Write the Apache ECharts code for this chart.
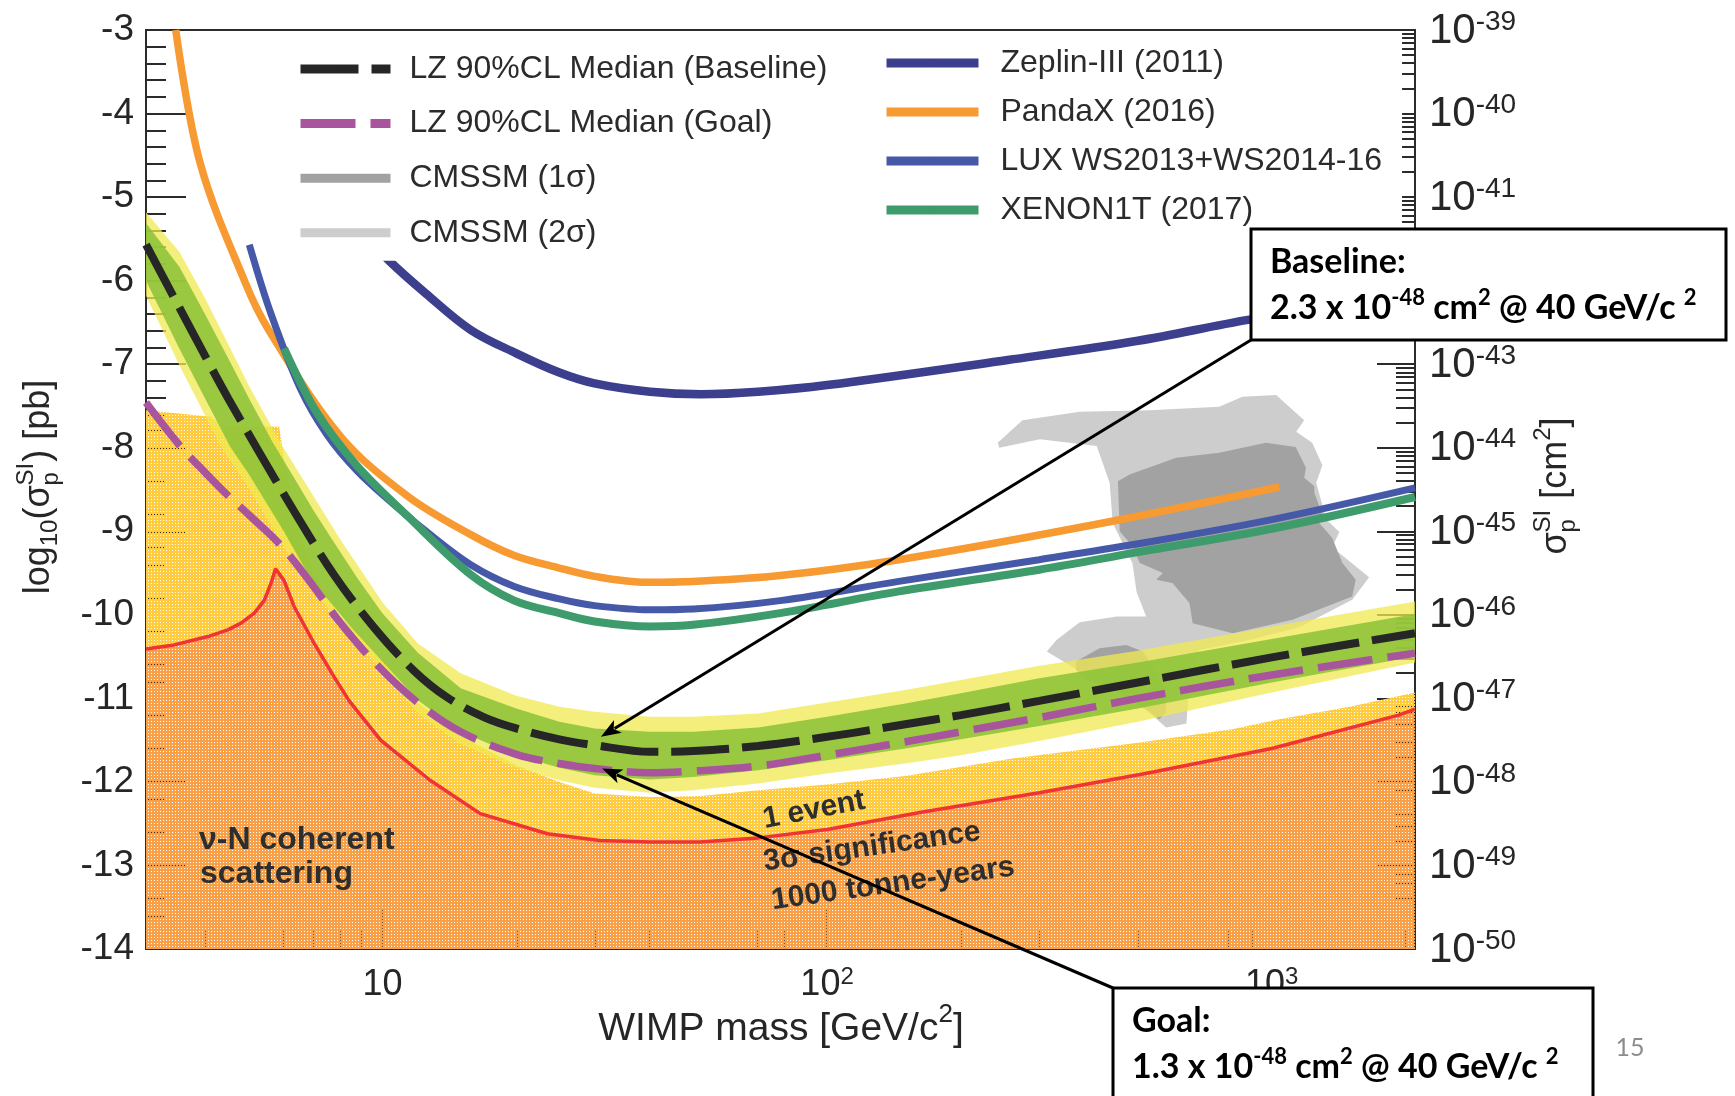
<!DOCTYPE html>
<html>
<head>
<meta charset="utf-8">
<script src="https://cdn.jsdelivr.net/npm/echarts@6/dist/echarts.min.js"></script>
<style>
  html, body { margin: 0; padding: 0; background: #fff; }
  #chart { width: 1735px; height: 1096px; }
</style>
</head>
<body>
<div id="chart"></div>
<script>
// WIMP mass in GeV/c^2, cross-sections as log10(sigma_p^SI / pb)

// Existing experimental limits
const zeplinMass  = [7, 8.5, 10.35, 12.5, 15.8, 20, 25, 30, 40, 52, 70, 100, 255, 500, 884, 2100];
const zeplinSigma = [-4.85, -5.28, -5.76, -6.15, -6.59, -6.87, -7.10, -7.23, -7.33, -7.36, -7.33, -7.25, -6.95, -6.72, -6.47, -6.15];

const pandaxMass  = [3.43, 3.89, 4.92, 5.55, 8.04, 11.4, 15.8, 19.8, 25, 30, 39.3, 50, 78.4, 145, 409, 1040];
const pandaxSigma = [-3.0, -4.59, -6.03, -6.59, -7.86, -8.58, -9.04, -9.29, -9.44, -9.54, -9.61, -9.60, -9.53, -9.34, -8.91, -8.47];

const luxMass  = [5.02, 5.61, 6.55, 7.52, 8.78, 10.4, 12.4, 15.8, 19.8, 25, 30, 40, 50, 78.4, 145, 300, 500, 1000, 2100];
const luxSigma = [-5.57, -6.39, -7.30, -7.85, -8.28, -8.64, -8.98, -9.40, -9.66, -9.81, -9.89, -9.94, -9.93, -9.83, -9.60, -9.34, -9.15, -8.86, -8.48];

const xenonMass  = [6.01, 7.14, 8.78, 11.4, 15.8, 19.8, 25, 30, 40, 50, 78.4, 145, 300, 500, 1000, 2100];
const xenonSigma = [-6.81, -7.59, -8.22, -8.82, -9.52, -9.83, -9.98, -10.08, -10.14, -10.12, -9.98, -9.72, -9.46, -9.25, -8.97, -8.59];

// LZ projected 90% CL median sensitivity
const lzBaseMass  = [2.94, 3.5, 4, 4.5, 5.24, 6.33, 7.78, 9.57, 11.78, 14, 17, 20, 25, 30, 40, 50, 70, 100, 150, 200, 300, 500, 1000, 2100];
const lzBaseSigma = [-5.57, -6.33, -6.91, -7.41, -8.02, -8.76, -9.52, -10.15, -10.67, -10.99, -11.23, -11.36, -11.49, -11.56, -11.64, -11.63, -11.57, -11.46, -11.31, -11.20, -11.03, -10.81, -10.51, -10.22];

const lzGoalMass  = [2.94, 3.52, 4, 4.49, 5, 5.91, 7, 8, 9.57, 12, 15, 20, 25, 30, 40, 50, 70, 100, 150, 200, 300, 500, 1000, 2100];
const lzGoalSigma = [-7.46, -7.99, -8.30, -8.57, -8.80, -9.17, -9.66, -10.08, -10.56, -11.05, -11.40, -11.67, -11.78, -11.84, -11.89, -11.87, -11.81, -11.68, -11.52, -11.40, -11.23, -11.00, -10.72, -10.46];

// Sensitivity bands around the baseline median
const band1UpMass  = [2.94, 3.5, 4, 4.5, 5, 5.66, 6.33, 7, 7.78, 8.78, 10, 12, 15, 20, 25, 30, 40, 50, 70, 100, 150, 200, 300, 500, 1000, 2100];
const band1UpSigma = [-5.31, -5.84, -6.41, -6.93, -7.40, -7.93, -8.36, -8.75, -9.13, -9.56, -9.98, -10.45, -10.88, -11.12, -11.28, -11.36, -11.40, -11.40, -11.35, -11.22, -11.06, -10.94, -10.76, -10.57, -10.29, -9.99];
const band1LoMass  = [2.94, 3.5, 4, 4.55, 5, 6, 6.78, 7.5, 8.5, 10, 12, 15, 20, 25, 30, 40, 50, 70, 100, 150, 200, 300, 500, 1000, 2100];
const band1LoSigma = [-6.00, -6.82, -7.42, -7.99, -8.31, -9.00, -9.50, -9.80, -10.15, -10.56, -11.02, -11.40, -11.68, -11.83, -11.92, -11.97, -11.94, -11.86, -11.74, -11.60, -11.49, -11.33, -11.12, -10.81, -10.50];
const band2UpMass  = [2.94, 3.5, 4, 4.5, 5, 5.91, 7, 8, 9.25, 10, 12, 15, 20, 25, 30, 40, 50, 70, 100, 150, 200, 300, 500, 1000, 2100];
const band2UpSigma = [-5.18, -5.66, -6.22, -6.76, -7.25, -7.95, -8.58, -9.08, -9.58, -9.85, -10.34, -10.70, -10.97, -11.10, -11.16, -11.22, -11.22, -11.18, -11.05, -10.90, -10.78, -10.61, -10.43, -10.14, -9.84];
const band2LoMass  = [2.94, 3.5, 4.34, 5, 6.43, 7, 8, 10, 12, 15, 20, 25, 30, 40, 50, 70, 100, 150, 200, 300, 500, 1000, 2100];
const band2LoSigma = [-6.18, -7.02, -7.99, -8.48, -9.45, -9.70, -10.10, -10.67, -11.18, -11.55, -11.83, -11.98, -12.07, -12.13, -12.10, -12.02, -11.90, -11.78, -11.68, -11.51, -11.28, -10.93, -10.57];

// Neutrino backgrounds: 1 event / 3 sigma discovery in 1000 tonne-years, and coherent scattering floor
const discoveryMass  = [2.94, 4.12, 4.33, 5.86, 6.01, 6.5, 7, 8, 10, 12, 15, 20, 25, 30, 40, 52, 70, 100, 150, 261, 500, 815, 1040, 1500, 2100];
const discoverySigma = [-7.55, -7.63, -7.73, -7.75, -8.15, -9.00, -9.50, -10.00, -10.55, -11.05, -11.45, -11.80, -12.00, -12.14, -12.18, -12.17, -12.10, -12.03, -11.93, -11.72, -11.53, -11.37, -11.25, -11.10, -10.93];
const floorMass  = [2.94, 3.4, 4.05, 4.49, 4.81, 5.15, 5.42, 5.61, 5.75, 6.01, 6.33, 7.02, 7.78, 8.42, 9.91, 12.8, 16.6, 23.5, 30.8, 40, 51.8, 70, 100, 164, 300, 520, 1000, 1930, 2100];
const floorSigma = [-10.41, -10.36, -10.26, -10.18, -10.10, -9.98, -9.83, -9.63, -9.45, -9.59, -9.90, -10.34, -10.74, -11.03, -11.50, -11.98, -12.38, -12.62, -12.70, -12.72, -12.72, -12.67, -12.57, -12.36, -12.13, -11.90, -11.60, -11.20, -11.13];

// CMSSM preferred regions
const cmssm2Mass  = [242, 275, 370, 531, 762, 859, 1023, 1183, 1135, 1233, 1300, 1259, 1327, 1419, 1368, 1656, 1517, 1153, 891, 687, 653, 643, 579, 522, 410, 312, 328, 370, 448, 522, 497, 486, 439, 432, 404, 301, 244];
const cmssm2Sigma = [-7.94, -7.67, -7.57, -7.55, -7.51, -7.39, -7.37, -7.67, -7.81, -7.94, -8.21, -8.42, -8.86, -9.01, -9.19, -9.55, -9.82, -10.15, -10.30, -10.42, -10.82, -11.30, -11.35, -11.14, -10.82, -10.44, -10.30, -10.09, -10.02, -10.02, -9.73, -9.38, -8.90, -8.42, -7.98, -7.90, -8.00];
const cmssm1Mass  = [451, 479, 610, 762, 971, 1132, 1194, 1183, 1247, 1247, 1300, 1279, 1368, 1442, 1545, 1517, 1114, 817, 664, 653, 598, 550, 569, 505, 486, 455];
const cmssm1Sigma = [-8.40, -8.32, -8.12, -8.06, -7.94, -7.99, -8.24, -8.36, -8.46, -8.54, -8.80, -8.90, -9.08, -9.38, -9.58, -9.78, -10.06, -10.22, -10.10, -9.86, -9.62, -9.58, -9.50, -9.38, -9.18, -9.00];
const cmssm1LobeMass  = [363, 410, 471, 513, 540, 578, 578, 558, 522, 447, 383, 363];
const cmssm1LobeSigma = [-10.56, -10.40, -10.36, -10.44, -10.62, -10.90, -11.17, -11.25, -11.13, -10.90, -10.78, -10.66];

// Axis ticks and labels
const xLabelDecades = [1, 2, 3];             // 10, 10^2, 10^3 GeV
const yLeftTicks = [-14, -3];                // range in log10(pb)
const pbToCm2Exponent = -36;                 // 1 pb = 1e-36 cm^2

// Quoted sensitivities at 40 GeV/c^2
const baselineNote = { coef: '2.3', exp: -48, mass: 40 };
const goalNote     = { coef: '1.3', exp: -48, mass: 40 };
const baselineArrowTip = [31, -11.46];
const goalArrowTip     = [31.2, -11.84];

// ---------------------------------------------------------------
const L = Math.log10;
const pts = (ms, ss) => ms.map((m, i) => [L(m), ss[i]]);
const closedBand = (um, us, lm, ls) => pts(um, us).concat(pts(lm, ls).reverse());

const xMin = L(2.94), xMax = L(2100);
const minorX = [];
for (let n = 0; n <= 3; n++) for (let k = 2; k <= 9; k++) {
  const v = n + L(k);
  if (v >= xMin && v <= xMax) minorX.push(v);
}
const minorYRight = [];
for (let n = yLeftTicks[0]; n < yLeftTicks[1]; n++) for (let k = 2; k <= 9; k++) minorYRight.push(n + L(k));

// fine halftone: solid colour with a transparent pixel every 3x3 cell
function dotFill(base) {
  const c = document.createElement('canvas');
  c.width = 3; c.height = 3;
  const g = c.getContext('2d');
  g.fillStyle = base; g.fillRect(0, 0, 3, 3);
  g.clearRect(1, 1, 1, 1);
  return { image: c, repeat: 'repeat' };
}
const orangeFill = dotFill('#F8A048');
const goldFill = dotFill('#FECC3E');

const FONT = '"Liberation Sans", Arial, sans-serif';
const INK = '#262626';

function polySeries(name, polys, fill, z, legendColor) {
  return {
    name: name, type: 'custom', coordinateSystem: 'cartesian2d', z: z, silent: true,
    itemStyle: { color: legendColor || '#000' },
    data: polys.map(p => p[0]),
    renderItem: function (params, api) {
      return {
        type: 'polygon',
        shape: { points: polys[params.dataIndex].map(p => api.coord(p)) },
        style: { fill: fill }
      };
    }
  };
}

function limitLine(name, ms, ss, color, width, dash, z) {
  return {
    name: name, type: 'line', data: pts(ms, ss), symbol: 'none', z: z,
    smooth: 0.35, silent: true,
    itemStyle: { color: color },
    lineStyle: { color: color, width: width, type: dash || 'solid', cap: 'butt' }
  };
}

const chart = echarts.init(document.getElementById('chart'), null, { renderer: 'canvas', width: 1735, height: 1096 });

const legendText = { fontSize: 32, color: '#2b2b2b', fontFamily: FONT, lineHeight: 40, padding: [0, 0, 0, 14] };

const option = {
  animation: false,
  backgroundColor: '#ffffff',
  grid: { left: 146, top: 30, width: 1269, height: 919, show: true, backgroundColor: '#ffffff', borderColor: '#2b2b2b', borderWidth: 2 },
  xAxis: [
    {
      type: 'value', min: xMin, max: xMax, position: 'bottom',
      axisLine: { show: false }, splitLine: { show: false },
      axisTick: { show: true, inside: true, length: 40, customValues: xLabelDecades, lineStyle: { color: '#2b2b2b', width: 1.5 } },
      axisLabel: {
        show: true, customValues: xLabelDecades, margin: 16, color: INK,
        formatter: v => Math.round(v) === 1 ? '{b|10}' : '{b|10}{s|' + Math.round(v) + '}',
        rich: {
          b: { fontSize: 36, fontFamily: FONT, color: INK, verticalAlign: 'bottom', lineHeight: 38, padding: [8, 0, 0, 0] },
          s: { fontSize: 24, fontFamily: FONT, color: INK, verticalAlign: 'top', lineHeight: 24 }
        }
      }
    },
    {
      type: 'value', min: xMin, max: xMax, position: 'bottom',
      axisLine: { show: false }, splitLine: { show: false }, axisLabel: { show: false },
      axisTick: { show: true, inside: true, length: 20, customValues: minorX, lineStyle: { color: '#2b2b2b', width: 1.5 } }
    }
  ],
  yAxis: [
    {
      type: 'value', min: yLeftTicks[0], max: yLeftTicks[1], interval: 1, position: 'left',
      axisLine: { show: false }, splitLine: { show: false },
      axisTick: { show: true, inside: true, length: 40, lineStyle: { color: '#2b2b2b', width: 2 } },
      minorTick: { show: true, splitNumber: 5, length: 20, lineStyle: { color: '#2b2b2b', width: 2 } },
      axisLabel: { fontSize: 37, fontFamily: FONT, color: INK, margin: 12 }
    },
    {
      type: 'value', min: yLeftTicks[0], max: yLeftTicks[1], interval: 1, position: 'right',
      axisLine: { show: false }, splitLine: { show: false },
      axisTick: { show: true, inside: true, length: 38, lineStyle: { color: '#2b2b2b', width: 2 } },
      axisLabel: {
        margin: 14, color: INK,
        formatter: v => '{b|10}{s|' + (Math.round(v) + pbToCm2Exponent) + '}',
        rich: {
          b: { fontSize: 42, fontFamily: FONT, color: INK, verticalAlign: 'bottom', lineHeight: 44, padding: [9, 0, 0, 0] },
          s: { fontSize: 28, fontFamily: FONT, color: INK, verticalAlign: 'top', lineHeight: 28 }
        }
      }
    },
    {
      type: 'value', min: yLeftTicks[0], max: yLeftTicks[1], position: 'right',
      axisLine: { show: false }, splitLine: { show: false }, axisLabel: { show: false },
      axisTick: { show: true, inside: true, length: 19, customValues: minorYRight, lineStyle: { color: '#2b2b2b', width: 2 } }
    }
  ],
  legend: [
    {
      orient: 'vertical', left: 282, top: 39, itemWidth: 90, itemHeight: 9, itemGap: 14.6, z: 20,
      padding: [10, 20, 8, 14], backgroundColor: '#ffffff', selectedMode: false,
      lineStyle: { width: 9 }, textStyle: legendText,
      data: [
        { name: 'LZ 90%CL Median (Baseline)' },
        { name: 'LZ 90%CL Median (Goal)' },
        { name: 'CMSSM (1σ)', icon: 'rect' },
        { name: 'CMSSM (2σ)', icon: 'rect' }
      ]
    },
    {
      orient: 'vertical', left: 868, top: 33, itemWidth: 92, itemHeight: 9, itemGap: 9, z: 20,
      padding: [10, 20, 8, 14], backgroundColor: '#ffffff', selectedMode: false,
      lineStyle: { width: 9 }, textStyle: Object.assign({}, legendText, { padding: [0, 0, 0, 17] }),
      data: ['Zeplin-III (2011)', 'PandaX (2016)', 'LUX WS2013+WS2014-16', 'XENON1T (2017)']
    }
  ],
  series: [
    // coherent neutrino scattering floor (orange) with its red boundary
    {
      name: 'ν-N floor', type: 'line', data: pts(floorMass, floorSigma), symbol: 'none', z: 1, silent: true,
      itemStyle: { color: '#EE3434' },
      lineStyle: { color: '#EE3434', width: 3.5 },
      areaStyle: { color: orangeFill, origin: 'start', opacity: 1 }
    },
    // 1 event, 3 sigma, 1000 tonne-years region (gold) between its edge and the floor
    polySeries('discovery region', [closedBand(discoveryMass, discoverySigma, floorMass, floorSigma)], goldFill, 1),
    polySeries('CMSSM (2σ)', [pts(cmssm2Mass, cmssm2Sigma)], '#CDCDCD', 2, '#CDCDCD'),
    polySeries('CMSSM (1σ)', [pts(cmssm1Mass, cmssm1Sigma), pts(cmssm1LobeMass, cmssm1LobeSigma)], '#A2A2A2', 2, '#A2A2A2'),
    polySeries('LZ 2σ band', [closedBand(band2UpMass, band2UpSigma, band2LoMass, band2LoSigma)], 'rgba(240,233,80,0.75)', 3),
    polySeries('LZ 1σ band', [closedBand(band1UpMass, band1UpSigma, band1LoMass, band1LoSigma)], 'rgba(139,194,56,0.86)', 3),
    limitLine('Zeplin-III (2011)', zeplinMass, zeplinSigma, '#3C3E8E', 8.5, 'solid', 4),
    limitLine('PandaX (2016)', pandaxMass, pandaxSigma, '#F79A32', 7.5, 'solid', 4),
    limitLine('LUX WS2013+WS2014-16', luxMass, luxSigma, '#4559A8', 7, 'solid', 4),
    limitLine('XENON1T (2017)', xenonMass, xenonSigma, '#3E9B6B', 8, 'solid', 4),
    limitLine('LZ 90%CL Median (Goal)', lzGoalMass, lzGoalSigma, '#A8559E', 7.5, [55, 15], 5),
    limitLine('LZ 90%CL Median (Baseline)', lzBaseMass, lzBaseSigma, '#262626', 8, [58, 13], 6)
  ]
};

chart.setOption(option);

// ---------------------------------------------------------------
// Annotations: axis titles, region labels, note boxes and arrows
const measure = document.createElement('canvas').getContext('2d');
function tw(text, size) {
  measure.font = size + 'px ' + FONT;
  return measure.measureText(text).width;
}

// a run of text pieces; a piece flagged 'stack' shares its x with the following piece
function runText(pieces, cx, cy, rotation) {
  let total = 0;
  pieces.forEach(p => { if (!p.stack) total += p.w !== undefined ? p.w : tw(p.t, p.s); });
  let x = -total / 2;
  const children = [];
  pieces.forEach(p => {
    children.push({ type: 'text', x: x, y: p.dy || 0, style: { text: p.t, fontSize: p.s, fontFamily: FONT, fill: INK, align: 'left', verticalAlign: 'middle' } });
    if (!p.stack) x += p.w !== undefined ? p.w : tw(p.t, p.s);
  });
  return { type: 'group', x: cx, y: cy, rotation: rotation || 0, children: children, z: 50 };
}

const supW = t => tw(t, 24);
const leftTitle = runText([
  { t: 'log', s: 36 },
  { t: '10', s: 24, dy: 11 },
  { t: '(σ', s: 36 },
  { t: 'SI', s: 24, dy: -13, stack: true },
  { t: 'p', s: 24, dy: 12, w: Math.max(supW('SI'), supW('p')) + 1 },
  { t: ') [pb]', s: 36 }
], 39, 487, Math.PI / 2);

const rightTitle = runText([
  { t: 'σ', s: 36 },
  { t: 'SI', s: 24, dy: -13, stack: true },
  { t: 'p', s: 24, dy: 12, w: Math.max(supW('SI'), supW('p')) + 1 },
  { t: ' [cm', s: 36 },
  { t: '2', s: 24, dy: -13 },
  { t: ']', s: 36 }
], 1556, 486, Math.PI / 2);

const bottomTitle = runText([
  { t: 'WIMP mass [GeV/c', s: 39 },
  { t: '2', s: 26, dy: -14 },
  { t: ']', s: 39 }
], 781, 1029, 0);

function boldText(text, x, y, rot, size) {
  return {
    type: 'text', x: x, y: y, rotation: rot || 0, z: 40,
    style: { text: text, fontSize: size || 30, fontWeight: 'bold', fontFamily: FONT, fill: '#2e2e2e', align: rot === undefined ? 'left' : 'center', verticalAlign: 'middle' }
  };
}

const NOTE_FONT = 'Lato, "Open Sans", sans-serif';
function noteBox(x, y, w, h, title, note) {
  const rich = {
    t: { fontSize: 34, fontWeight: 'bold', fontFamily: NOTE_FONT, fill: '#000', verticalAlign: 'bottom', lineHeight: 38, padding: [7, 0, 0, 0] },
    s: { fontSize: 22, fontWeight: 'bold', fontFamily: NOTE_FONT, fill: '#000', verticalAlign: 'top', lineHeight: 22 }
  };
  const line2 = '{t|' + note.coef + ' x 10}{s|' + note.exp + '}{t| cm}{s|2}{t| @ ' + note.mass + ' GeV/c }{s|2}';
  return [
    { type: 'rect', z: 60, shape: { x: x, y: y, width: w, height: h }, style: { fill: '#fff', stroke: '#000', lineWidth: 3 } },
    { type: 'text', z: 61, x: x + 19, y: y + 33, style: { text: title, fontSize: 34, fontWeight: 'bold', fontFamily: NOTE_FONT, fill: '#000', align: 'left', verticalAlign: 'middle' } },
    { type: 'text', z: 61, x: x + 19, y: y + 77, style: { text: line2, rich: rich, align: 'left', verticalAlign: 'middle' } }
  ];
}

function arrow(from, to) {
  const dx = to[0] - from[0], dy = to[1] - from[1];
  const len = Math.sqrt(dx * dx + dy * dy);
  const ux = dx / len, uy = dy / len, nx = -uy, ny = ux;
  const hl = 20, hw = 7.5;
  const bx = to[0] - ux * hl, by = to[1] - uy * hl;
  return [
    { type: 'line', z: 58, shape: { x1: from[0], y1: from[1], x2: bx + ux * 4, y2: by + uy * 4 }, style: { stroke: '#000', lineWidth: 3 } },
    { type: 'polygon', z: 58, shape: { points: [[to[0], to[1]], [bx + nx * hw, by + ny * hw], [bx + ux * 5, by + uy * 5], [bx - nx * hw, by - ny * hw]] }, style: { fill: '#000' } }
  ];
}

const tipBase = chart.convertToPixel({ xAxisIndex: 0, yAxisIndex: 0 }, [L(baselineArrowTip[0]), baselineArrowTip[1]]);
const tipGoal = chart.convertToPixel({ xAxisIndex: 0, yAxisIndex: 0 }, [L(goalArrowTip[0]), goalArrowTip[1]]);

const baseBox = [1251, 229, 475, 111];
const goalBox = [1113, 988, 480, 130];

const graphics = [].concat(
  [leftTitle, rightTitle, bottomTitle],
  [
    boldText('ν-N coherent', 199, 840, undefined, 32),
    boldText('scattering', 200, 874, undefined, 32),
    boldText('1 event', 814, 810, 0.19, 30),
    boldText('3σ significance', 872, 847, 0.14, 30),
    boldText('1000 tonne-years', 893, 884, 0.14, 30)
  ],
  arrow([baseBox[0], baseBox[1] + baseBox[3]], tipBase),
  arrow([goalBox[0], goalBox[1]], tipGoal),
  noteBox(baseBox[0], baseBox[1], baseBox[2], baseBox[3], 'Baseline:', baselineNote),
  noteBox(goalBox[0], goalBox[1], goalBox[2], goalBox[3], 'Goal:', goalNote),
  [{ type: 'text', z: 40, x: 1630, y: 1048, style: { text: '15', fontSize: 25, fontFamily: NOTE_FONT, fill: '#8c8c8c', align: 'center', verticalAlign: 'middle' } }]
);

chart.setOption({ graphic: graphics });
</script>
</body>
</html>
